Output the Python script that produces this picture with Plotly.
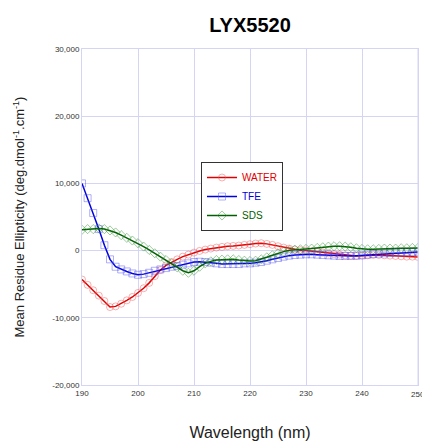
import plotly.graph_objects as go

wavelength = list(range(190, 251))

water = [-4300, -5100, -5900, -6700, -7500, -8400, -8300, -7900, -7400, -6900,
         -6300, -5600, -4800, -3800, -2900, -2200, -1700, -1300, -900, -600,
         -300, -50, 150, 300, 450, 550, 650, 700, 750, 850,
         950, 1050, 1100, 1000, 850, 650, 450, 300, 150, 50,
         0, -100, -200, -300, -400, -500, -600, -700, -750, -800,
         -750, -700, -650, -650, -700, -750, -800, -850, -900, -900,
         -950]

tfe = [10000, 7800, 5600, 3200, 800, -1300, -2400, -2800, -3100, -3400,
       -3600, -3500, -3300, -3000, -2800, -2600, -2400, -2300, -2100, -1900,
       -1700, -1650, -1700, -1800, -1900, -2000, -2000, -2000, -2000, -1900,
       -1900, -1800, -1700, -1500, -1300, -1100, -900, -750, -650, -600,
       -550, -550, -600, -650, -700, -750, -800, -800, -800, -750,
       -700, -600, -500, -450, -400, -350, -300, -250, -250, -200,
       -200]

sds = [3100, 3200, 3200, 3300, 3200, 3000, 2700, 2300, 1900, 1500,
       1100, 600, 100, -400, -900, -1400, -1900, -2500, -3000, -3300,
       -3000, -2400, -1900, -1600, -1400, -1350, -1300, -1300, -1400, -1500,
       -1550, -1500, -1300, -1000, -700, -400, -150, 50, 150, 200,
       250, 300, 400, 500, 600, 650, 650, 600, 500, 350,
       250, 200, 200, 250, 300, 300, 300, 350, 350, 400,
       400]

x_ticks = [190, 200, 210, 220, 230, 240, 250]
y_ticks = [-20000, -10000, 0, 10000, 20000, 30000]
y_tick_labels = ["-20,000", "-10,000", "0", "10,000", "20,000", "30,000"]

series = [
    ("WATER", water, "#e00000", "rgba(240,80,80,0.45)", "circle-open"),
    ("TFE", tfe, "#0000e0", "rgba(80,80,240,0.45)", "square-open"),
    ("SDS", sds, "#006000", "rgba(40,140,40,0.45)", "diamond-open"),
]

fig = go.Figure()
for name, vals, lc, mc, sym in series:
    fig.add_trace(go.Scatter(
        x=wavelength, y=vals, mode="lines+markers",
        name=f"<span style='color:{lc}'>{name}</span>",
        line=dict(color=lc, width=1.5),
        marker=dict(symbol=sym, size=7, color=mc, line=dict(width=1, color=mc)),
    ))

# last x tick label (drawn as text so it is kept even though it reaches the page edge)
fig.add_annotation(x=x_ticks[-1], y=0, xref="x", yref="paper", yanchor="top", yshift=-3,
                   text=str(x_ticks[-1]), showarrow=False,
                   font=dict(size=8, color="#333"))

grid = "#d4d4f4"
fig.update_layout(
    width=422, height=442,
    margin=dict(l=82, r=4, t=49, b=57),
    paper_bgcolor="white", plot_bgcolor="white",
    font=dict(family="Arial, Liberation Sans, sans-serif", color="#222"),
    title=dict(text="<b>LYX5520</b>", x=250/422, xanchor="center",
               y=1 - 25/442, yanchor="middle", font=dict(size=20, color="black")),
    showlegend=True,
    legend=dict(x=(201-82)/336, y=(385-162)/336, xanchor="left", yanchor="top",
                bgcolor="white", bordercolor="#333", borderwidth=1,
                font=dict(size=10), tracegroupgap=0, itemwidth=30),
    xaxis=dict(range=[190, 250], tickvals=x_ticks[:-1], ticktext=[str(v) for v in x_ticks[:-1]],
               showgrid=True, gridcolor=grid, gridwidth=1, zeroline=False,
               showline=True, linecolor=grid, mirror=True,
               ticks="", ticklen=0, tickfont=dict(size=8, color="#333"),
               title=dict(text="Wavelength (nm)", font=dict(size=16, color="#222"), standoff=30)),
    yaxis=dict(range=[-20000, 30000], tickvals=y_ticks, ticktext=y_tick_labels,
               showgrid=True, gridcolor=grid, gridwidth=1, zeroline=False,
               showline=True, linecolor=grid, mirror=True,
               ticks="", tickfont=dict(size=8, color="#333"),
               title=dict(text="Mean Residue Ellipticity (deg.dmol<sup>-1</sup>.cm<sup>-1</sup>)",
                          font=dict(size=13, color="#222"), standoff=24)),
)
fig.add_vline(x=x_ticks[-1], line=dict(color=grid, width=1))

fig.write_html("out.html")
